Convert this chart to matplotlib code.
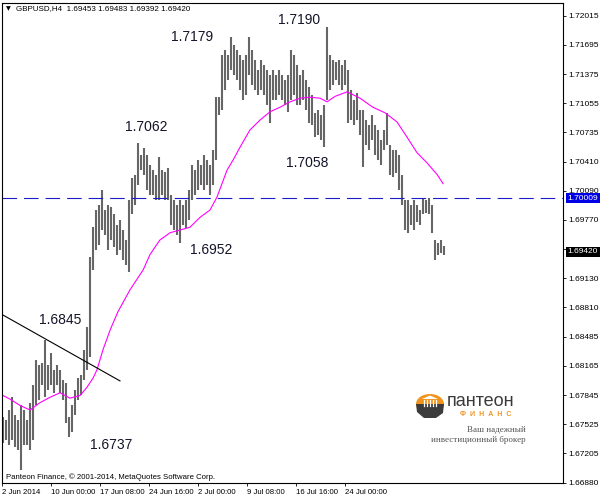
import matplotlib
matplotlib.use("Agg")
import matplotlib.pyplot as plt
import matplotlib.transforms as mtransforms
from matplotlib.patches import Ellipse, Polygon
import numpy as np

plt.rcParams["font.family"] = ["Liberation Sans", "DejaVu Sans"]
plt.rcParams["lines.scale_dashes"] = False

# H4 bars, high / low
bar_high = [
    1.6760, 1.6757, 1.6768, 1.6782, 1.6763, 1.6757, 1.6773, 1.6768, 1.6757, 1.6776,
    1.6795, 1.6823, 1.6818, 1.6820, 1.6845, 1.6818, 1.6831, 1.6812, 1.6818, 1.6812,
    1.6801, 1.6798, 1.6760, 1.6773, 1.6790, 1.6803, 1.6807, 1.6834, 1.6859, 1.6936,
    1.6969, 1.6988, 1.6994, 1.7010, 1.6988, 1.6994, 1.6991, 1.6984, 1.6972, 1.6977,
    1.6966, 1.6955, 1.6999, 1.7023, 1.7027, 1.7062, 1.7049, 1.7056, 1.7049, 1.7037,
    1.7032, 1.7027, 1.7046, 1.7032, 1.7030, 1.7034, 1.7004, 1.6999, 1.6994, 1.6999,
    1.6994, 1.6999, 1.7010, 1.7037, 1.7032, 1.7043, 1.7037, 1.7049, 1.7043, 1.7037,
    1.7054, 1.7112, 1.7112, 1.7159, 1.7164, 1.7159, 1.7178, 1.7170, 1.7164, 1.7159,
    1.7153, 1.7159, 1.7178, 1.7164, 1.7153, 1.7142, 1.7153, 1.7148, 1.7142, 1.7137,
    1.7142, 1.7137, 1.7142, 1.7137, 1.7131, 1.7137, 1.7164, 1.7159, 1.7148, 1.7137,
    1.7142, 1.7131, 1.7123, 1.7114, 1.7095, 1.7098, 1.7093, 1.7103, 1.7189, 1.7159,
    1.7153, 1.7151, 1.7153, 1.7148, 1.7153, 1.7142, 1.7120, 1.7109, 1.7117, 1.7098,
    1.7098, 1.7087, 1.7081, 1.7093, 1.7081, 1.7076, 1.7065, 1.7076, 1.7095, 1.7059,
    1.7054, 1.7054, 1.7049, 1.7027, 1.6999, 1.6999, 1.6994, 1.6999, 1.6994, 1.6988,
    1.7001, 1.6999, 1.7001, 1.6994, 1.6955, 1.6952, 1.6955, 1.6948,
]
bar_low = [
    1.6732, 1.6735, 1.6730, 1.6735, 1.6727, 1.6724, 1.6702, 1.6730, 1.6730, 1.6724,
    1.6735, 1.6773, 1.6779, 1.6795, 1.6782, 1.6790, 1.6795, 1.6787, 1.6795, 1.6787,
    1.6779, 1.6754, 1.6738, 1.6744, 1.6763, 1.6779, 1.6784, 1.6801, 1.6812, 1.6826,
    1.6922, 1.6944, 1.6949, 1.6966, 1.6961, 1.6944, 1.6955, 1.6947, 1.6938, 1.6944,
    1.6933, 1.6928, 1.6920, 1.6984, 1.6994, 1.7016, 1.7032, 1.7027, 1.7010, 1.7004,
    1.7004, 1.6999, 1.6999, 1.7004, 1.6999, 1.6999, 1.6972, 1.6966, 1.6961, 1.6952,
    1.6972, 1.6968, 1.6977, 1.6999, 1.7004, 1.7010, 1.7016, 1.7010, 1.7016, 1.7004,
    1.7016, 1.7043, 1.7093, 1.7098, 1.7120, 1.7131, 1.7142, 1.7137, 1.7131, 1.7120,
    1.7109, 1.7114, 1.7137, 1.7126, 1.7120, 1.7114, 1.7120, 1.7114, 1.7103, 1.7084,
    1.7109, 1.7109, 1.7114, 1.7109, 1.7103, 1.7096, 1.7109, 1.7114, 1.7103, 1.7103,
    1.7109, 1.7098, 1.7084, 1.7081, 1.7068, 1.7070, 1.7065, 1.7057, 1.7109, 1.7120,
    1.7126, 1.7131, 1.7126, 1.7120, 1.7126, 1.7084, 1.7087, 1.7081, 1.7087, 1.7070,
    1.7035, 1.7059, 1.7054, 1.7065, 1.7049, 1.7043, 1.7037, 1.7054, 1.7059, 1.7027,
    1.7024, 1.7029, 1.7010, 1.6994, 1.6966, 1.6963, 1.6972, 1.6966, 1.6975, 1.6972,
    1.6984, 1.6985, 1.6984, 1.6963, 1.6933, 1.6938, 1.6941, 1.6939,
]

# moving average (magenta), sampled at bar positions
ma_idx = [0, 2.3, 5.7, 9, 12.3, 15.7, 19, 22.3, 25.7, 28, 30, 31.3, 33.3, 35.7, 38.3,
          42.3, 46.7, 49, 52.3, 55.7, 59, 62.3, 65.7, 69, 71.3, 74.7, 76.7, 79, 82.3,
          85.7, 89, 92.3, 95.7, 99, 102.3, 105.7, 108, 110.7, 114.7, 119, 123.3,
          127.3, 131.3, 134.7, 138, 141.3, 144.7, 146.7]
ma_val = [1.6784, 1.6780, 1.6773, 1.6768, 1.6776, 1.6782, 1.6787, 1.6781, 1.6784,
          1.6793, 1.6803, 1.6812, 1.6834, 1.6856, 1.6876, 1.6900, 1.6922, 1.6939,
          1.6955, 1.6963, 1.6966, 1.6969, 1.6980, 1.6988, 1.7002, 1.7032, 1.7043,
          1.7057, 1.7076, 1.7087, 1.7096, 1.7101, 1.7107, 1.7111, 1.7112, 1.7111,
          1.7107, 1.7113, 1.7118, 1.7111, 1.7101, 1.7095, 1.7085, 1.7068, 1.7051,
          1.7040, 1.7027, 1.7017]

trend_idx = [-0.3, 39]
trend_val = [1.6873, 1.6800]
level = 1.70009
last_price = 1.69420

y_ticks = [1.66880, 1.67205, 1.67525, 1.67845, 1.68165, 1.68485, 1.68810, 1.69130,
           1.69450, 1.69770, 1.70090, 1.70410, 1.70735, 1.71055, 1.71375, 1.71695, 1.72015]
x_tick_idx = [-0.33, 16, 32.33, 48.67, 65, 81.33, 97.67, 114]
x_tick_labels = ["2 Jun 2014", "10 Jun 00:00", "17 Jun 08:00", "24 Jun 16:00",
                 "2 Jul 00:00", "9 Jul 08:00", "16 Jul 16:00", "24 Jul 00:00"]

# price labels: text, pixel x, pixel y
notes = [("1.7179", 192, 37), ("1.7190", 299, 20), ("1.7062", 146, 127),
         ("1.7058", 307, 163), ("1.6952", 211, 250), ("1.6845", 60, 320),
         ("1.6737", 111, 445)]

W, H = 600, 500
fig = plt.figure(figsize=(6, 5), dpi=100)
fig.patch.set_facecolor("white")
ax = fig.add_axes([2 / W, 1 - 483 / H, 561 / W, 480 / H])

x = np.arange(len(bar_high))
ax.vlines(x, bar_low, bar_high, color="#666666", linewidth=1.5)
ax.plot(ma_idx, ma_val, color="#ff00ff", linewidth=0.8)
ax.plot(trend_idx, trend_val, color="black", linewidth=0.8)
ax.axhline(level, color="#1c1cc8", linewidth=0.8, dashes=(10.5, 5))

ax.set_xlim(-1 / 3, 560 / 3)
ax.set_ylim(1.66877, 1.72157)
for s in ax.spines.values():
    s.set_color("black")
    s.set_linewidth(0.8)

ax.yaxis.tick_right()
ax.set_yticks(y_ticks)
ax.set_yticklabels(["" if abs(v - 1.69450) < 1e-6 else f"{v:.5f}" for v in y_ticks])
ax.tick_params(axis="y", length=2.5, width=0.6, pad=1.5, labelsize=6)
ax.set_xticks(x_tick_idx)
ax.set_xticklabels(x_tick_labels, ha="left")
ax.tick_params(axis="x", length=2.5, width=0.6, pad=1.5, labelsize=5.6)

tr = mtransforms.blended_transform_factory(ax.transAxes, ax.transData)
ax.text(1.0 + 4.5 / 561, level, f"{level:.5f}", transform=tr, ha="left", va="center",
        color="white", fontsize=6, zorder=5,
        bbox=dict(boxstyle="square,pad=0.2", fc="#0000e6", ec="none"))
ax.text(1.0 + 4.5 / 561, last_price, f"{last_price:.5f}", transform=tr, ha="left",
        va="center", color="white", fontsize=6, zorder=5,
        bbox=dict(boxstyle="square,pad=0.2", fc="black", ec="none"))

# overlay in pixel coordinates for texts and logo
ov = fig.add_axes([0, 0, 1, 1])
ov.set_xlim(0, W)
ov.set_ylim(H, 0)
ov.axis("off")
ov.patch.set_alpha(0)

for txt, px, py in notes:
    ov.text(px, py, txt, ha="center", va="center", fontsize=10, color="#14142a")

ov.text(6, 9, "▼", ha="left", va="center", fontsize=4.5, color="black",
        family=["DejaVu Sans"])
ov.text(16, 9, "GBPUSD,H4  1.69453 1.69483 1.69392 1.69420", ha="left", va="center",
        fontsize=5.8, color="black")
ov.text(6, 477, "Panteon Finance, © 2001-2014, MetaQuotes Software Corp.", ha="left",
        va="center", fontsize=5.6, color="black")

# logo
ov.add_patch(Ellipse((430, 404), 28, 20, fc="#f0941e", ec="none"))
ov.add_patch(Polygon([(416, 404), (444, 404), (443, 413), (436, 418), (424, 418), (417, 412)],
                     closed=True, fc="#3c3c3c", ec="none"))
ov.add_patch(Polygon([(422, 399), (430, 395.5), (438, 399)], closed=True, fc="white", ec="none"))
for cx in [423.5, 426.5, 429.5, 432.5, 435.5]:
    ov.plot([cx, cx], [400, 406], color="white", linewidth=0.9)
ov.text(447, 402, "пантеон", ha="left", va="center", fontsize=13, color="#3a3a3a")
ov.text(486, 414.5, "Ф  И  Н  А  Н  С", ha="center", va="center", fontsize=5,
        color="#f0941e", fontweight="bold")
ov.text(526, 430, "Ваш надежный", ha="right", va="center", fontsize=6.5,
        color="#555555", family=["Liberation Serif"])
ov.text(526, 440, "инвестиционный брокер", ha="right", va="center", fontsize=6.5,
        color="#555555", family=["Liberation Serif"])

fig.savefig("out.png", dpi=100)
